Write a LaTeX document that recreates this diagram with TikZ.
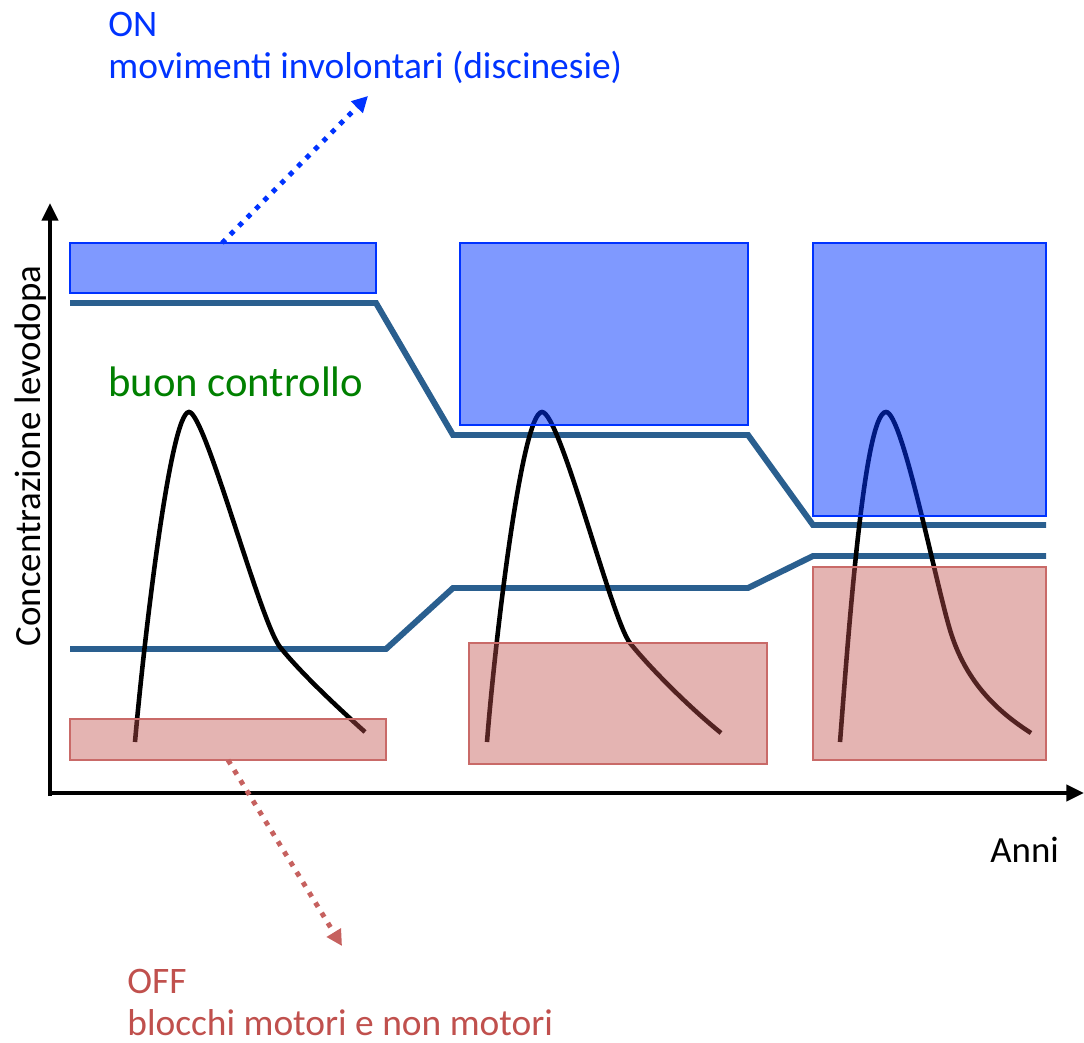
\documentclass[tikz,border=0pt]{standalone}
\usepackage{fontspec}
\setmainfont{Carlito}
\usetikzlibrary{arrows.meta}
\definecolor{onblue}{RGB}{0,51,255}
\definecolor{offred}{RGB}{192,80,77}
\definecolor{levline}{RGB}{42,95,143}
\definecolor{okgreen}{RGB}{0,128,0}
\tikzset{
  axis/.style={line width=2.8pt,-{Triangle[length=10pt,width=9pt]}},
  level/.style={levline,line width=3.4pt},
  pulse/.style={black,line width=2.6pt},
  onbox/.style={draw=onblue,line width=1.2pt,fill=onblue,fill opacity=0.5},
  offbox/.style={draw=offred!85,line width=1.2pt,fill=offred,fill opacity=0.43},
  onarrow/.style={onblue,line width=2.8pt,dash pattern=on 2.8pt off 4pt,-{Triangle[length=9pt,width=9pt]}},
  offarrow/.style={offred!90,line width=2.8pt,dash pattern=on 2.8pt off 4pt,-{Triangle[length=9pt,width=9pt]}},
  caption/.style={inner sep=0pt,font=\fontsize{21.3}{24}\selectfont,align=left},
  axislabel/.style={inner sep=0pt,font=\fontsize{21}{24}\selectfont},
}

\begin{document}
\begin{tikzpicture}[x=0.02cm,y=-0.02cm]
      \useasboundingbox (0,0) rectangle (1084,1043);

      % axes
      \draw[axis] (50,796) -- (50,203);
      \draw[axis] (48,793) -- (1084,793);
      \node[axislabel,rotate=90] (ylabel) at (31,456) {Concentrazione levodopa};
      \node[axislabel,anchor=base west] (xlabel) at (990,862) {Anni};

      % threshold lines
      \draw[level] (70,303) -- (376,303) -- (453,435) -- (748,435) -- (813,525) -- (1046,525);
      \draw[level] (70,649) -- (386,649) -- (453,588) -- (748,588) -- (813,556) -- (1046,556);

      % levodopa pulses
      \draw[pulse] (135,742) .. controls (143,650) and (170,412) .. (189,412)
                   .. controls (205,412) and (260,622) .. (280,647)
                   .. controls (300,672) and (335,705) .. (365,732);
      \draw[pulse] (487,742) .. controls (495,640) and (522,412) .. (542,412)
                   .. controls (560,412) and (612,621) .. (630,643)
                   .. controls (650,668) and (690,708) .. (721,733);
      \draw[pulse] (840,742) .. controls (848,640) and (864,412) .. (886,412)
                   .. controls (902,412) and (935,580) .. (950,630)
                   .. controls (965,680) and (995,710) .. (1031,733);

      % ON / OFF windows
      \draw[onbox] (70,243) rectangle (376,293);
      \draw[onbox] (460,243) rectangle (748,425);
      \draw[onbox] (813,243) rectangle (1046,516);
      \draw[offbox] (70,719) rectangle (386,760);
      \draw[offbox] (469,643) rectangle (767,764);
      \draw[offbox] (813,567) rectangle (1046,760);

      \node[caption,okgreen,anchor=north west,font=\fontsize{24.3}{28}\selectfont] (good) at (108,367) {buon controllo};
      \node[caption,onblue,anchor=north west] (ontext) at (108,12) {ON\\movimenti involontari (discinesie)};
      \node[caption,offred,anchor=north west] (offtext) at (127,969) {OFF\\blocchi motori e non motori};

      \coordinate (onstart) at (222,243);
      \coordinate (ontip) at (368,96);
      \coordinate (offstart) at (228,760);
      \coordinate (offtip) at (342,946);
      \draw[onarrow] (onstart) -- (ontip);
      \draw[offarrow] (offstart) -- (offtip);
\end{tikzpicture}
\end{document}
